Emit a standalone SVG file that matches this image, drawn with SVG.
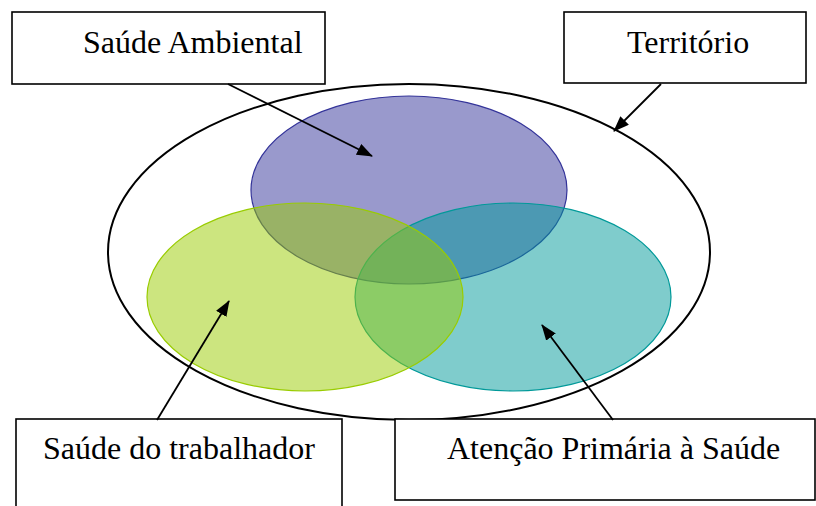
<svg xmlns="http://www.w3.org/2000/svg" width="816" height="506" viewBox="0 0 816 506">
<defs>
<marker id="ah" viewBox="0 0 16 12" refX="15" refY="6" markerWidth="16" markerHeight="12" markerUnits="userSpaceOnUse" orient="auto">
<path d="M0,0 L16,6 L0,12 Z" fill="#000"/>
</marker>
</defs>
<style>
.box{fill:#fff;stroke:#000;stroke-width:1.6}
.lbl{font-family:"Liberation Serif","Times New Roman",serif;font-size:32px;fill:#000}
.conn{stroke:#000;stroke-width:1.8;fill:none;marker-end:url(#ah)}
</style>
<g id="territorio-area">
<ellipse cx="409" cy="252" rx="301" ry="168" fill="none" stroke="#000" stroke-width="2"/>
</g>
<g id="saude-ambiental-circle">
<ellipse cx="409" cy="190" rx="158" ry="94" fill="#333399" fill-opacity="0.5" stroke="#333399" stroke-width="1.2"/>
</g>
<g id="aps-circle">
<ellipse cx="513" cy="297" rx="158" ry="94" fill="#009999" fill-opacity="0.5" stroke="#009999" stroke-width="1.2"/>
</g>
<g id="saude-trabalhador-circle">
<ellipse cx="305" cy="297" rx="158" ry="94" fill="#99cc00" fill-opacity="0.5" stroke="#99cc00" stroke-width="1.2"/>
</g>
<g id="saude-ambiental">
<rect class="box" x="12" y="12" width="313" height="72"/>
<text class="lbl" x="83" y="53">Saúde Ambiental</text>
</g>
<g id="territorio">
<rect class="box" x="564" y="12" width="242" height="71"/>
<text class="lbl" x="627" y="53">Território</text>
</g>
<g id="saude-trabalhador">
<rect class="box" x="16" y="419" width="326" height="100"/>
<text class="lbl" x="43" y="459">Saúde do trabalhador</text>
</g>
<g id="atencao-primaria">
<rect class="box" x="395" y="419" width="420" height="81"/>
<text class="lbl" x="447" y="459">Atenção Primária à Saúde</text>
</g>
<g id="connectors">
<line class="conn" x1="228" y1="84" x2="372" y2="156"/>
<line class="conn" x1="661" y1="84" x2="614" y2="131"/>
<line class="conn" x1="157" y1="420" x2="229" y2="301"/>
<line class="conn" x1="613" y1="420" x2="542" y2="325"/>
</g>
</svg>
